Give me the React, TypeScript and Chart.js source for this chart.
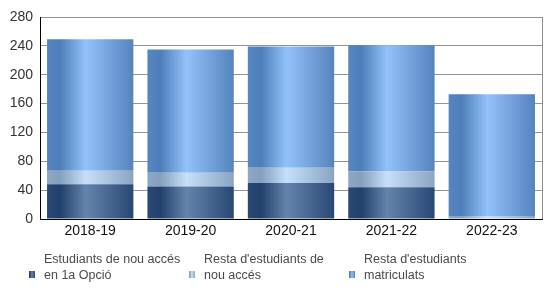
import React, { useEffect, useRef } from "react";
import { Chart, registerables } from "chart.js";

Chart.register(...registerables);

const categories = ["2018-19", "2019-20", "2020-21", "2021-22", "2022-23"];
const firstOption = [48, 45, 50, 44, 0];
const otherNewAccess = [19, 19, 21, 22, 4];
const otherEnrolled = [182, 171, 168, 175, 169];
const seriesNames = [
  ["Estudiants de nou accés", "en 1a Opció"],
  ["Resta d'estudiants de", "nou accés"],
  ["Resta d'estudiants", "matriculats"],
];
const yTicksMax = 280;
const yTickStep = 40;

const darkStops: [number, string][] = [
  [0, "#2a4a76"],
  [0.15, "#21416c"],
  [0.45, "#6584ac"],
  [1, "#284874"],
];
const lightStops: [number, string][] = [
  [0, "#8ea7c4"],
  [0.15, "#859fbd"],
  [0.45, "#c7dff9"],
  [1, "#8aa4c2"],
];
const blueStops: [number, string][] = [
  [0, "#5786c1"],
  [0.15, "#4e7eb9"],
  [0.45, "#93c2fa"],
  [1, "#5583be"],
];

const BAR_FRAC = 0.86;

function grad(stops: [number, string][]) {
  return (ctx: any) => {
    const chart = ctx.chart;
    const xs = chart.scales && chart.scales.x;
    if (!chart.chartArea || !xs || ctx.dataIndex === undefined) return stops[2][1];
    const cx = xs.getPixelForValue(ctx.dataIndex);
    const w = (xs.width / categories.length) * BAR_FRAC;
    const g = chart.ctx.createLinearGradient(cx - w / 2, 0, cx + w / 2, 0);
    stops.forEach(([o, c]) => g.addColorStop(o, c));
    return g;
  };
}

function cssGrad(stops: [number, string][]) {
  return `linear-gradient(to right, ${stops.map(([o, c]) => `${c} ${o * 100}%`).join(", ")})`;
}

const framePlugin = {
  id: "frame",
  afterDraw(chart: any) {
    const { ctx, chartArea } = chart;
    ctx.save();
    ctx.strokeStyle = "#8c8c8c";
    ctx.lineWidth = 1;
    ctx.beginPath();
    const x = Math.round(chartArea.right) + 0.5;
    ctx.moveTo(x, chartArea.top);
    ctx.lineTo(x, chartArea.bottom);
    ctx.stroke();
    ctx.restore();
  },
};

export default function App() {
  const ref = useRef<HTMLCanvasElement>(null);
  useEffect(() => {
    const chart = new Chart(ref.current!, {
      type: "bar",
      data: {
        labels: categories,
        datasets: [
          { label: seriesNames[0].join(" "), data: firstOption, backgroundColor: grad(darkStops) },
          { label: seriesNames[1].join(" "), data: otherNewAccess, backgroundColor: grad(lightStops) },
          { label: seriesNames[2].join(" "), data: otherEnrolled, backgroundColor: grad(blueStops) },
        ],
      },
      options: {
        animation: false,
        responsive: false,
        maintainAspectRatio: false,
        layout: { padding: { left: 0, right: 8, top: 17, bottom: 0 } },
        plugins: { legend: { display: false }, tooltip: { enabled: false } },
        datasets: { bar: { barPercentage: BAR_FRAC, categoryPercentage: 1, borderWidth: 0 } },
        scales: {
          x: {
            stacked: true,
            grid: { display: false, drawTicks: false },
            border: { display: true, color: "#000", width: 1 },
            ticks: { color: "#111", font: { family: "Liberation Sans, Arial, sans-serif", size: 14 }, padding: 4 },
            afterFit: (s: any) => { s.height = 86; },
          },
          y: {
            stacked: true,
            min: 0,
            max: yTicksMax,
            z: 1,
            grid: { color: "rgba(0,0,0,0.42)", drawTicks: false },
            border: { display: true, color: "#000", width: 1 },
            ticks: {
              stepSize: yTickStep,
              color: "#333",
              padding: 7,
              font: { family: "Liberation Sans, Arial, sans-serif", size: 14 },
            },
            afterFit: (s: any) => { s.width = 40; },
          },
        },
      },
      plugins: [framePlugin],
    });
    return () => chart.destroy();
  }, []);

  const stopsList = [darkStops, lightStops, blueStops];
  return (
    <div style={{ position: "fixed", left: 0, top: 0, width: 550, height: 305, background: "#fff" }}>
      <canvas ref={ref} width={550} height={305} style={{ display: "block" }} />
      {seriesNames.map((lines, i) => (
        <div key={i} style={{ position: "absolute", left: 29 + i * 160, top: 251, width: 160, height: 40 }}>
          <div style={{ position: "absolute", left: 0, top: 20, width: 6, height: 7, background: cssGrad(stopsList[i]) }} />
          <div
            style={{
              position: "absolute",
              left: 15,
              top: 0,
              fontFamily: "Liberation Sans, Arial, sans-serif",
              fontSize: 12.5,
              lineHeight: "16px",
              color: "#4a4a4a",
              whiteSpace: "nowrap",
            }}
          >
            {lines[0]}
            <br />
            {lines[1]}
          </div>
        </div>
      ))}
    </div>
  );
}
